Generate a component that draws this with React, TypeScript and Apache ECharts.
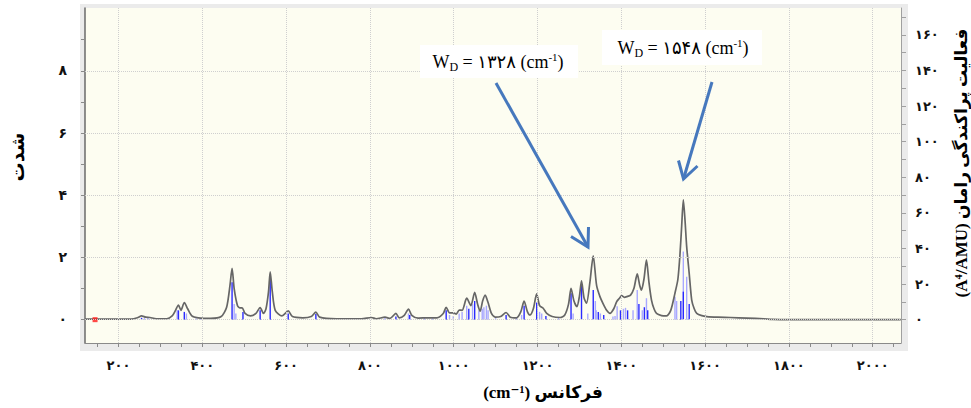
import React, { useEffect, useRef } from 'react';
import * as echarts from 'echarts';

// Broadened spectrum (wavenumber cm^-1, intensity)
const envelope: [number, number][] = [
  [120, 0.02], [230, 0.02], [245, 0.06], [255, 0.12], [265, 0.08], [275, 0.07], [290, 0.03], [315, 0.03],
  [328, 0.12], [336, 0.3], [343, 0.47], [349, 0.3], [357, 0.55], [365, 0.35], [375, 0.12], [390, 0.06],
  [420, 0.04], [445, 0.1], [458, 0.4], [466, 1.1], [471, 1.65], [476, 1.0], [484, 0.45], [490, 0.38],
  [495, 0.38], [502, 0.2], [515, 0.12], [528, 0.2], [538, 0.39], [546, 0.2], [552, 0.35], [558, 0.9],
  [562, 1.54], [567, 0.9], [574, 0.3], [590, 0.12], [605, 0.28], [615, 0.1], [640, 0.06], [660, 0.1],
  [671, 0.24], [680, 0.08], [720, 0.03], [780, 0.03], [804, 0.07], [815, 0.03], [836, 0.08], [848, 0.04],
  [862, 0.2], [870, 0.06], [882, 0.14], [892, 0.34], [900, 0.14], [915, 0.05], [939, 0.06], [960, 0.06],
  [975, 0.2], [982, 0.4], [990, 0.22], [999, 0.22], [1006, 0.18], [1013, 0.31], [1020, 0.3], [1031, 0.69],
  [1041, 0.45], [1050, 0.88], [1057, 0.5], [1063, 0.27], [1069, 0.6], [1075, 0.79], [1082, 0.55], [1090, 0.2],
  [1099, 0.08], [1112, 0.1], [1125, 0.23], [1135, 0.08], [1150, 0.06], [1160, 0.25], [1168, 0.6], [1176, 0.25],
  [1182, 0.15], [1190, 0.35], [1198, 0.83], [1205, 0.45], [1214, 0.36], [1222, 0.2], [1235, 0.1], [1254, 0.07],
  [1265, 0.15], [1274, 0.5], [1280, 1.01], [1287, 0.6], [1294, 0.42], [1300, 0.75], [1305, 1.25], [1311, 0.7],
  [1317, 0.53], [1325, 1.2], [1333, 2.05], [1341, 1.1], [1349, 0.74], [1357, 0.5], [1365, 0.3], [1373, 0.2],
  [1382, 0.35], [1389, 0.58], [1395, 0.68], [1401, 0.77], [1407, 0.72], [1413, 0.74], [1422, 0.79], [1430, 1.0],
  [1438, 1.47], [1444, 1.1], [1448, 0.95], [1454, 1.3], [1460, 1.92], [1466, 1.2], [1472, 0.63], [1478, 0.35],
  [1484, 0.2], [1496, 0.13], [1508, 0.12], [1518, 0.3], [1528, 0.85], [1535, 1.3], [1540, 2.1], [1544, 3.0],
  [1548, 3.85], [1552, 3.2], [1556, 2.35], [1562, 1.49], [1568, 0.63], [1574, 0.35], [1580, 0.2], [1592, 0.13],
  [1604, 0.1], [1630, 0.08], [1660, 0.07], [1700, 0.05], [1740, 0.03], [1760, 0.01], [1800, 0.0], [2067, 0.0],
];

// Light-blue stick lines
const lightSticks: [number, number][] = [
  [262, 0.05], [270, 0.05], [340, 0.3], [362, 0.2], [385, 0.04], [395, 0.04], [476, 0.5], [480, 0.2],
  [836, 0.05], [892, 0.2], [930, 0.05], [950, 0.04], [990, 0.15], [999, 0.12], [1013, 0.2], [1020, 0.25],
  [1031, 0.45], [1045, 0.5], [1060, 0.3], [1068, 0.35], [1072, 0.4], [1078, 0.45], [1082, 0.3], [1100, 0.05],
  [1150, 0.05], [1162, 0.15], [1205, 0.25], [1210, 0.2], [1250, 0.05], [1285, 0.2], [1320, 0.2], [1338, 0.6],
  [1340, 0.3], [1350, 0.2], [1380, 0.1], [1385, 0.12], [1390, 0.43], [1405, 0.35], [1410, 0.38], [1428, 0.3],
  [1438, 0.95], [1450, 0.3], [1460, 0.69], [1528, 0.74], [1532, 0.6], [1548, 2.19], [1556, 1.38],
];

// Dark-blue stick lines
const darkSticks: [number, number][] = [
  [255, 0.06], [343, 0.3], [357, 0.25], [471, 1.2], [497, 0.25], [538, 0.3], [562, 1.28], [605, 0.2],
  [671, 0.18], [862, 0.1], [895, 0.15], [982, 0.3], [1036, 0.35], [1050, 0.6], [1125, 0.15], [1168, 0.45],
  [1198, 0.55], [1220, 0.12], [1280, 0.85], [1305, 1.1], [1333, 0.95], [1345, 0.25], [1358, 0.15], [1398, 0.3],
  [1415, 0.3], [1442, 0.5], [1455, 0.4], [1463, 0.3], [1542, 0.6], [1548, 0.9], [1562, 0.5],
];

const markerPoint: [number, number][] = [[144, 0]];

const xTickLabels = [200, 400, 600, 800, 1000, 1200, 1400, 1600, 1800, 2000];
const xTicks = [150, 200, 250, 300, 350, 400, 450, 500, 550, 600, 650, 700, 750, 800, 850, 900, 950, 1000,
  1050, 1100, 1150, 1200, 1250, 1300, 1350, 1400, 1450, 1500, 1550, 1600, 1650, 1700, 1750, 1800, 1850, 1900,
  1950, 2000, 2050];
const leftTickLabels = [0, 2, 4, 6, 8];
const leftTicks = [0, 1, 2, 3, 4, 5, 6, 7, 8, 9];
const rightTickLabels = [0, 20, 40, 60, 80, 100, 120, 140, 160];
const rightTicks = [0, 10, 20, 30, 40, 50, 60, 70, 80, 90, 100, 110, 120, 130, 140, 150, 160, 170];

const annotation1 = '۱۳۲۸';
const annotation2 = '۱۵۴۸';

const FONT = "'Liberation Serif', 'DejaVu Sans', serif";
const fa = (v: number) => String(v).replace(/[0-9]/g, (d) => '۰۱۲۳۴۵۶۷۸۹'[+d]);

const richStyle = {
  a: { fontSize: 18, fontFamily: FONT, fill: '#000', lineHeight: 22, verticalAlign: 'middle' },
  s: { fontSize: 12, fontFamily: FONT, fill: '#000', lineHeight: 12, verticalAlign: 'bottom' },
  p: { fontSize: 11, fontFamily: FONT, fill: '#000', lineHeight: 11, verticalAlign: 'top' },
};

export default function App() {
  const ref = useRef<HTMLDivElement>(null);
  useEffect(() => {
    if (!ref.current) return;
    const chart = echarts.init(ref.current, null, { renderer: 'svg' });
    const labelStyle = { fontSize: 13, fontWeight: 'bold', color: '#111', fontFamily: FONT };
    const axisCol = '#8a8a8a';
    const arrowColor = '#4678bd';
    const option: any = {
      animation: false,
      backgroundColor: '#ffffff',
      grid: { left: 85, right: 70, top: 8, bottom: 65, show: true, backgroundColor: '#fdfdf1', borderWidth: 0 },
      xAxis: {
        type: 'value', min: 120, max: 2067.5,
        axisLine: { show: true, onZero: false, lineStyle: { color: axisCol, width: 1 } },
        axisTick: { show: true, length: 4, customValues: xTicks, lineStyle: { color: axisCol } },
        axisLabel: { customValues: xTickLabels, formatter: fa, margin: 16, ...labelStyle },
        splitLine: { show: false },
      },
      yAxis: [
        {
          type: 'value', min: -0.75, max: 10.02, position: 'left',
          axisLine: { show: true, onZero: false, lineStyle: { color: '#6a6a6a', width: 1.5 } },
          axisTick: { show: true, length: 4, customValues: leftTicks, lineStyle: { color: axisCol } },
          axisLabel: { customValues: leftTickLabels, formatter: fa, margin: 18, padding: [0, 0, 10, 0], ...labelStyle, fontSize: 14 },
          splitLine: { show: false },
        },
        {
          type: 'value', min: -13.1, max: 175.1, position: 'right',
          axisLine: { show: true, onZero: false, lineStyle: { color: '#a0a0a0', width: 1 } },
          axisTick: { show: true, length: 5, customValues: rightTicks, lineStyle: { color: '#a0a0a0' } },
          axisLabel: { customValues: rightTickLabels, formatter: fa, margin: 14, ...labelStyle },
          splitLine: { show: false },
        },
      ],
      series: [
        {
          type: 'line', data: [], z: 1, silent: true,
          markLine: {
            silent: true, symbol: 'none', label: { show: false },
            lineStyle: { color: '#cfcfcf', type: 'dotted', width: 1 },
            data: [
              ...leftTickLabels.map((v) => ({ yAxis: v })),
              ...xTickLabels.map((v) => ({ xAxis: v })),
            ],
          },
        },
        {
          type: 'bar', barWidth: 1.4, z: 2, silent: true,
          data: [
            ...lightSticks.map((d) => ({ value: d, itemStyle: { color: '#a8a8ff' } })),
            ...darkSticks.map((d) => ({ value: d, itemStyle: { color: '#2a2aff' } })),
          ],
        },
        {
          type: 'line', data: envelope, z: 3, showSymbol: false, symbol: 'none', smooth: 0.25,
          lineStyle: { color: '#666666', width: 1.7 },
        },
        {
          type: 'scatter', data: markerPoint, z: 4, symbol: 'rect', symbolSize: 5,
          itemStyle: { color: '#ff1a1a' },
        },
      ],
      graphic: [
        { type: 'rect', z: -10, zlevel: 0, shape: { x: 80, y: 4, width: 828, height: 347 }, style: { fill: '#ebebeb' }, silent: true },
        // axis names
        {
          type: 'text', x: 17, y: 157, rotation: Math.PI / 2, z: 50,
          style: { text: 'شدت', font: "bold 19px 'Liberation Serif', 'DejaVu Sans', serif", fill: '#000', align: 'center', verticalAlign: 'middle' },
        },
        {
          type: 'text', x: 961, y: 163, rotation: Math.PI / 2, z: 50,
          style: { text: '(A⁴/AMU) فعالیت پراکندگی رامان', font: "bold 17px 'Liberation Serif', 'DejaVu Sans', serif", fill: '#000', align: 'center', verticalAlign: 'middle' },
        },
        {
          type: 'text', x: 543, y: 392, z: 50,
          style: { text: '(cm⁻¹) فرکانس', font: "bold 17px 'Liberation Serif', 'DejaVu Sans', serif", fill: '#000', align: 'center', verticalAlign: 'middle' },
        },
        // annotation boxes
        { type: 'rect', z: 100, shape: { x: 420, y: 45, width: 158, height: 33 }, style: { fill: '#ffffff' } },
        {
          type: 'text', x: 498, y: 62, z: 101,
          style: { text: `{a|W}{s|D}{a| = ${annotation1} (cm}{p|-1}{a|)}`, rich: richStyle, align: 'center', verticalAlign: 'middle' },
        },
        { type: 'rect', z: 100, shape: { x: 602, y: 30, width: 160, height: 35 }, style: { fill: '#ffffff' } },
        {
          type: 'text', x: 683, y: 48, z: 101,
          style: { text: `{a|W}{s|D}{a| = ${annotation2} (cm}{p|-1}{a|)}`, rich: richStyle, align: 'center', verticalAlign: 'middle' },
        },
        // arrows
        { type: 'line', z: 102, shape: { x1: 496, y1: 83, x2: 588, y2: 247 }, style: { stroke: arrowColor, lineWidth: 3 } },
        { type: 'polyline', z: 102, shape: { points: [[571, 236.5], [588, 247], [588.5, 227]] }, style: { stroke: arrowColor, lineWidth: 3, fill: null } },
        { type: 'line', z: 102, shape: { x1: 712, y1: 82, x2: 683.5, y2: 179 }, style: { stroke: arrowColor, lineWidth: 3 } },
        { type: 'polyline', z: 102, shape: { points: [[678.5, 160.5], [683.5, 179], [697.5, 166]] }, style: { stroke: arrowColor, lineWidth: 3, fill: null } },
      ],
    };
    chart.setOption(option);
    return () => chart.dispose();
  }, []);
  return <div ref={ref} style={{ width: 971, height: 408, position: 'absolute', left: 0, top: 0 }} />;
}
